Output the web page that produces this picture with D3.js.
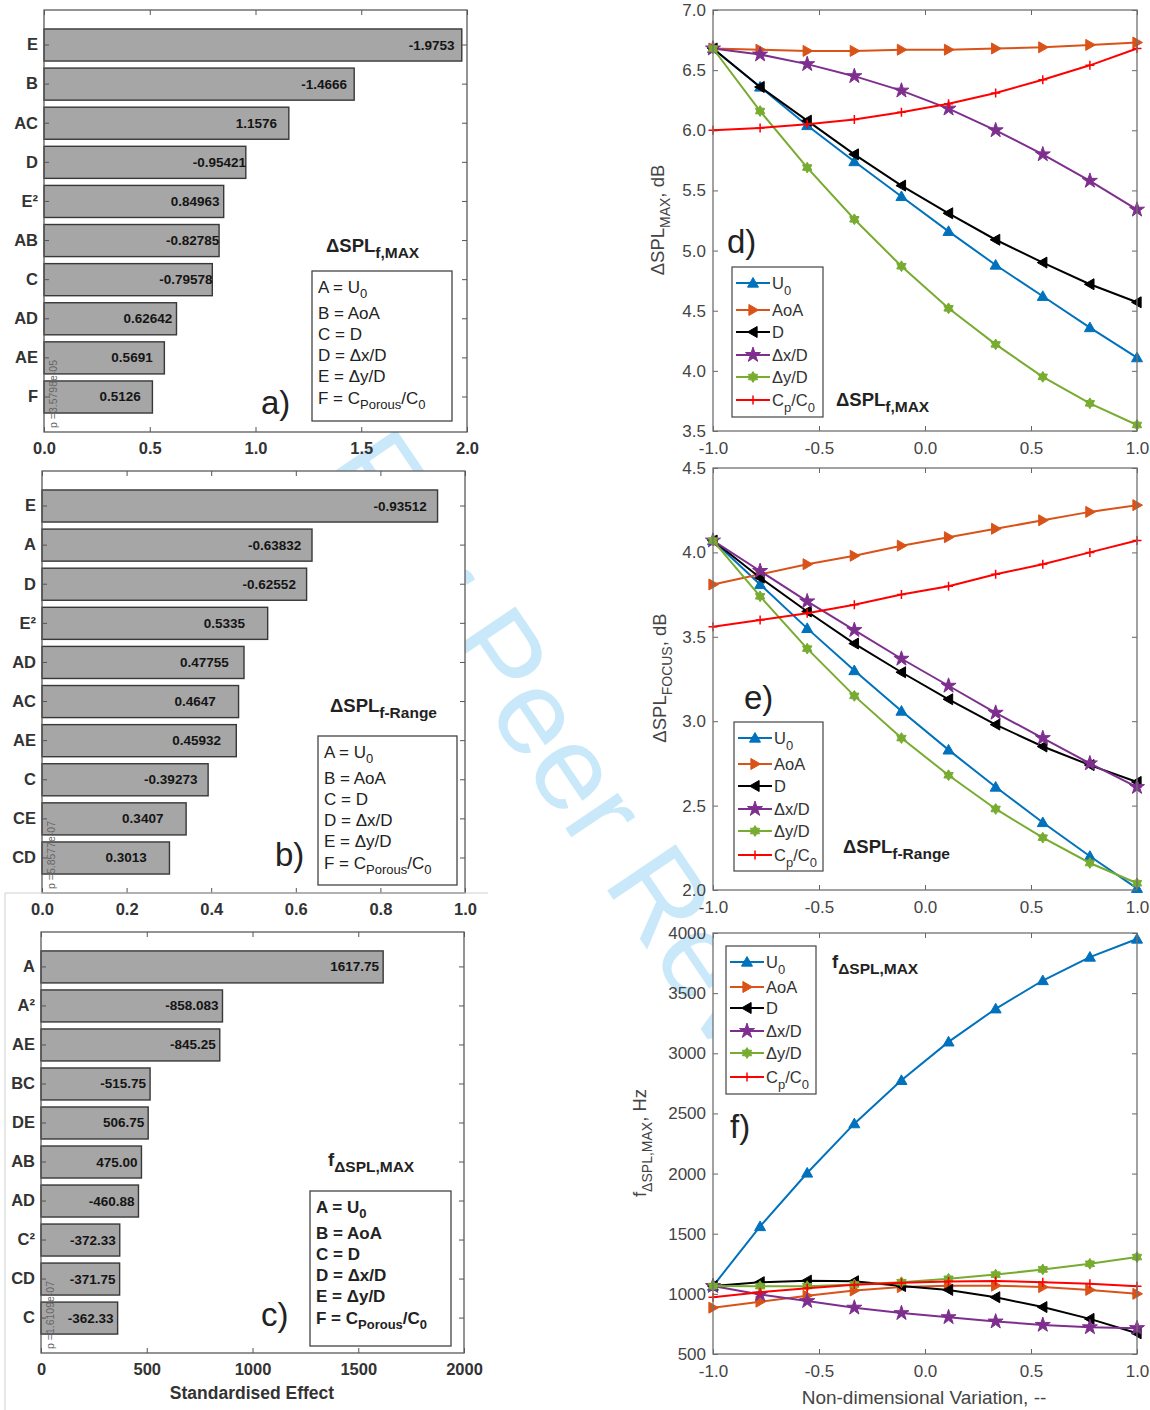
<!DOCTYPE html>
<html>
<head>
<meta charset="utf-8">
<script src="https://cdn.jsdelivr.net/npm/d3@7"></script>
<style>
  body { margin: 0; background: #fff; }
  svg { display: block; }
  text { font-family: "Liberation Sans", Arial, Helvetica, sans-serif; }
</style>
</head>
<body>
<svg id="fig" width="1150" height="1410"></svg>
<script>
// ---------------- Pareto data (standardised effects) ----------------
const catsA = ["E", "B", "AC", "D", "E²", "AB", "C", "AD", "AE", "F"];
const effA  = ["-1.9753", "-1.4666", "1.1576", "-0.95421", "0.84963", "-0.82785", "-0.79578", "0.62642", "0.5691", "0.5126"];
const ticksA = [0, 0.5, 1.0, 1.5, 2.0];

const catsB = ["E", "A", "D", "E²", "AD", "AC", "AE", "C", "CE", "CD"];
const effB  = ["-0.93512", "-0.63832", "-0.62552", "0.5335", "0.47755", "0.4647", "0.45932", "-0.39273", "0.3407", "0.3013"];
const ticksB = [0, 0.2, 0.4, 0.6, 0.8, 1.0];

const catsC = ["A", "A²", "AE", "BC", "DE", "AB", "AD", "C²", "CD", "C"];
const effC  = ["1617.75", "-858.083", "-845.25", "-515.75", "506.75", "475.00", "-460.88", "-372.33", "-371.75", "-362.33"];
const ticksC = [0, 500, 1000, 1500, 2000];

// ---------------- One-factor sweeps ----------------
const variation = [-1.0, -0.7778, -0.5556, -0.3333, -0.1111, 0.1111, 0.3333, 0.5556, 0.7778, 1.0];
const ticksVar = [-1.0, -0.5, 0.0, 0.5, 1.0];

// ΔSPL_MAX, dB
const dU0  = [6.68, 6.36, 6.04, 5.74, 5.45, 5.16, 4.88, 4.62, 4.36, 4.11];
const dAoA = [6.68, 6.67, 6.66, 6.66, 6.67, 6.67, 6.68, 6.69, 6.71, 6.73];
const dD   = [6.68, 6.36, 6.08, 5.80, 5.54, 5.31, 5.09, 4.90, 4.72, 4.57];
const dDx  = [6.68, 6.63, 6.55, 6.45, 6.33, 6.18, 6.00, 5.80, 5.58, 5.34];
const dDy  = [6.68, 6.16, 5.69, 5.26, 4.87, 4.52, 4.22, 3.95, 3.73, 3.55];
const dCp  = [6.00, 6.02, 6.05, 6.09, 6.15, 6.22, 6.31, 6.42, 6.54, 6.68];
const ticksD = [3.5, 4.0, 4.5, 5.0, 5.5, 6.0, 6.5, 7.0];

// ΔSPL_FOCUS, dB
const eU0  = [4.07, 3.81, 3.55, 3.30, 3.06, 2.83, 2.61, 2.40, 2.20, 2.01];
const eAoA = [3.81, 3.87, 3.93, 3.98, 4.04, 4.09, 4.14, 4.19, 4.24, 4.28];
const eD   = [4.07, 3.85, 3.65, 3.46, 3.29, 3.13, 2.98, 2.85, 2.74, 2.64];
const eDx  = [4.07, 3.89, 3.71, 3.54, 3.37, 3.21, 3.05, 2.90, 2.75, 2.61];
const eDy  = [4.07, 3.74, 3.43, 3.15, 2.90, 2.68, 2.48, 2.31, 2.16, 2.04];
const eCp  = [3.56, 3.60, 3.64, 3.69, 3.75, 3.80, 3.87, 3.93, 4.00, 4.07];
const ticksE = [2.0, 2.5, 3.0, 3.5, 4.0, 4.5];

// f_ΔSPL,MAX, Hz
const fU0  = [1065, 1560, 2005, 2415, 2775, 3095, 3370, 3605, 3800, 3950];
const fAoA = [885, 935, 985, 1028, 1056, 1068, 1068, 1056, 1033, 1000];
const fD   = [1065, 1097, 1110, 1105, 1065, 1033, 972, 890, 792, 672];
const fDx  = [1065, 995, 940, 885, 840, 806, 770, 742, 722, 715];
const fDy  = [1065, 1064, 1064, 1078, 1097, 1125, 1160, 1203, 1250, 1306];
const fCp  = [972, 1014, 1047, 1075, 1092, 1103, 1106, 1097, 1083, 1064];
const ticksF = [500, 1000, 1500, 2000, 2500, 3000, 3500, 4000];

// legend names of the swept factors (text parts: [string, subscript?])
const factorNames = [
  [["U", 0], ["0", 1]],
  [["AoA", 0]],
  [["D", 0]],
  [["Δx/D", 0]],
  [["Δy/D", 0]],
  [["C", 0], ["p", 1], ["/C", 0], ["0", 1]]
];
const factorColors  = ["#0072BD", "#D95319", "#000000", "#7E2F8E", "#77AC30", "#FF0000"];
const factorMarkers = ["triUp", "triRight", "triLeft", "pentagram", "hexagram", "plus"];

// key of the coded factors used in the Pareto charts
const factorKey = [
  [["A = U", 0], ["0", 1]],
  [["B = AoA", 0]],
  [["C = D", 0]],
  [["D = Δx/D", 0]],
  [["E = Δy/D", 0]],
  [["F = C", 0], ["Porous", 1], ["/C", 0], ["0", 1]]
];

// ---------------- helpers ----------------
const svg = d3.select("#fig");
const locale = d3.formatLocale({ decimal: ".", thousands: ",", grouping: [3], currency: ["", ""], minus: "-" });
const fmt1 = locale.format(".1f");
const fmtInt = locale.format("d");

function rich(sel, parts, subSize, shift) {
  let prev = 0;
  parts.forEach(([s, lvl]) => {
    const t = sel.append("tspan").text(s);
    if (lvl !== prev) t.attr("dy", (lvl - prev) * shift);
    if (lvl) t.attr("font-size", subSize);
    prev = lvl;
  });
  return sel;
}

function markerPath(type) {
  const s = 5.5;
  if (type === "triUp")    return `M0,${-s}L${s},${s * 0.75}L${-s},${s * 0.75}Z`;
  if (type === "triRight") return `M${s},0L${-s * 0.75},${s}L${-s * 0.75},${-s}Z`;
  if (type === "triLeft")  return `M${-s},0L${s * 0.75},${s}L${s * 0.75},${-s}Z`;
  if (type === "pentagram") return d3.symbol(d3.symbolStar, 70)();
  if (type === "hexagram") {
    const pts = [];
    for (let k = 0; k < 12; k++) {
      const r = k % 2 === 0 ? 5.4 : 3.3;
      const a = -Math.PI / 2 + k * Math.PI / 6;
      pts.push([r * Math.cos(a), r * Math.sin(a)]);
    }
    return "M" + pts.map(p => p.join(",")).join("L") + "Z";
  }
  return "M-4.5,0H4.5M0,-4.5V4.5";
}

function drawMarker(g, type, color, cx, cy) {
  const p = g.append("path").attr("d", markerPath(type)).attr("transform", `translate(${cx},${cy})`);
  if (type === "plus") p.attr("fill", "none").attr("stroke", color).attr("stroke-width", 1.5);
  else p.attr("fill", color).attr("stroke", color).attr("stroke-width", 1);
}

// ---------------- watermark (behind the plot areas) ----------------
svg.append("text")
  .attr("transform", "translate(572,838) rotate(56)")
  .attr("text-anchor", "middle")
  .attr("font-size", 120)
  .attr("fill", "#c9e9fa")
  .text("For Peer Review");

// ---------------- Pareto panels ----------------
function barPanel(cfg) {
  const g = svg.append("g");
  const vals = cfg.labels.map(Number);
  const x = d3.scaleLinear().domain([0, cfg.max]).range([cfg.x0, cfg.x1]);
  const y = d3.scaleBand().domain(cfg.cats).range([cfg.y0, cfg.y1]).paddingInner(0.18).paddingOuter(0.485);

  g.append("rect").attr("x", cfg.x0).attr("y", cfg.y0)
    .attr("width", cfg.x1 - cfg.x0).attr("height", cfg.y1 - cfg.y0).attr("fill", "#fff");

  g.selectAll("rect.bar").data(cfg.cats).join("rect").attr("class", "bar")
    .attr("x", x(0)).attr("y", d => y(d))
    .attr("width", (d, i) => x(Math.abs(vals[i])) - x(0))
    .attr("height", y.bandwidth())
    .attr("fill", "#a6a6a6").attr("stroke", "#383838").attr("stroke-width", 1.4);

  // axes with inward ticks on all sides
  const styleAxis = sel => {
    sel.select(".domain").remove();
    sel.selectAll(".tick line").attr("stroke", "#555");
    sel.selectAll("text").attr("font-size", 16.5).attr("font-weight", "bold").attr("fill", "#333")
      .attr("font-family", '"Liberation Sans", Arial, sans-serif');
  };
  g.append("g").attr("transform", `translate(0,${cfg.y1})`)
    .call(d3.axisBottom(x).tickValues(cfg.ticks).tickFormat(cfg.fmt).tickSizeInner(-5).tickSizeOuter(0).tickPadding(10))
    .call(styleAxis);
  g.append("g").attr("transform", `translate(0,${cfg.y0})`)
    .call(d3.axisTop(x).tickValues(cfg.ticks).tickFormat("").tickSizeInner(-5).tickSizeOuter(0))
    .call(styleAxis);
  g.append("g").attr("transform", `translate(${cfg.x0},0)`)
    .call(d3.axisLeft(y).tickSizeInner(-5).tickSizeOuter(0).tickPadding(6))
    .call(styleAxis);
  g.append("g").attr("transform", `translate(${cfg.x1},0)`)
    .call(d3.axisRight(y).tickFormat("").tickSizeInner(-5).tickSizeOuter(0))
    .call(styleAxis);

  // value labels inside bars
  g.selectAll("text.val").data(cfg.cats).join("text").attr("class", "val")
    .attr("x", (d, i) => x(Math.abs(vals[i])) + cfg.labelDx)
    .attr("y", d => y(d) + y.bandwidth() / 2 + 4.5)
    .attr("text-anchor", cfg.labelAnchor)
    .attr("font-size", 13.5).attr("font-weight", "bold").attr("fill", "#151515")
    .text((d, i) => cfg.labels[i]);

  // significance line annotation
  g.append("text")
    .attr("transform", `translate(${cfg.x0 + 13},${cfg.y1 - 4}) rotate(-90)`)
    .attr("font-size", 10.5).attr("fill", "#666").text(cfg.pText);

  g.append("rect").attr("x", cfg.x0).attr("y", cfg.y0)
    .attr("width", cfg.x1 - cfg.x0).attr("height", cfg.y1 - cfg.y0)
    .attr("fill", "none").attr("stroke", "#5a5a5a").attr("stroke-width", 1.3);

  // response title
  rich(g.append("text").attr("x", cfg.titleX).attr("y", cfg.titleY)
    .attr("font-size", 18.5).attr("font-weight", "bold").attr("fill", "#222"), cfg.title, 15.5, 6);

  // factor key box
  const lb = cfg.keyBox;
  g.append("rect").attr("x", lb[0]).attr("y", lb[1]).attr("width", lb[2]).attr("height", lb[3])
    .attr("fill", "#fff").attr("stroke", "#444").attr("stroke-width", 1.3);
  const offs = [22, 48, 69, 90, 111, 133];
  factorKey.forEach((parts, i) => {
    rich(g.append("text").attr("x", lb[0] + 6).attr("y", lb[1] + offs[i])
      .attr("font-size", 17).attr("font-weight", cfg.keyWeight).attr("fill", "#222"), parts, 13, 5);
  });

  g.append("text").attr("x", cfg.letterX).attr("y", cfg.letterY)
    .attr("font-family", '"Open Sans", "Noto Sans", sans-serif')
    .attr("font-size", 33).attr("fill", "#222").text(cfg.letter);

  return { g, x };
}

barPanel({
  cats: catsA, labels: effA, max: 2.0, ticks: ticksA, fmt: fmt1,
  x0: 44, x1: 467, y0: 10, y1: 432,
  labelDx: -53, labelAnchor: "start",
  pText: "p =3.5798e-05",
  title: [["ΔSPL", 0], ["f,MAX", 1]], titleX: 326, titleY: 252,
  keyBox: [312, 271, 140, 150], keyWeight: "normal",
  letter: "a)", letterX: 261, letterY: 414
});

barPanel({
  cats: catsB, labels: effB, max: 1.0, ticks: ticksB, fmt: fmt1,
  x0: 42, x1: 465, y0: 471, y1: 893,
  labelDx: -64, labelAnchor: "start",
  pText: "p =5.8577e-07",
  title: [["ΔSPL", 0], ["f-Range", 1]], titleX: 330, titleY: 712,
  keyBox: [318, 736, 139, 149], keyWeight: "normal",
  letter: "b)", letterX: 275, letterY: 866
});

// light frame around the lower Pareto panel
svg.append("path").attr("d", "M5,1410V893H488").attr("fill", "none").attr("stroke", "#cfcfcf").attr("stroke-width", 1);

const pc = barPanel({
  cats: catsC, labels: effC, max: 2000, ticks: ticksC, fmt: fmtInt,
  x0: 41, x1: 464, y0: 932, y1: 1353,
  labelDx: -4, labelAnchor: "end",
  pText: "p =1.6109e-07",
  title: [["f", 0], ["ΔSPL,MAX", 1]], titleX: 328, titleY: 1166,
  keyBox: [310, 1191, 141, 155], keyWeight: "bold",
  letter: "c)", letterX: 261, letterY: 1326
});
pc.g.append("text").attr("x", 252).attr("y", 1399).attr("text-anchor", "middle")
  .attr("font-size", 17.5).attr("font-weight", "bold").attr("fill", "#333").text("Standardised Effect");

// ---------------- sweep panels ----------------
function linePanel(cfg) {
  const g = svg.append("g");
  const X0 = 713, X1 = 1137;
  const x = d3.scaleLinear().domain([-1, 1]).range([X0, X1]);
  const y = d3.scaleLinear().domain(cfg.yDomain).range([cfg.y1, cfg.y0]);

  g.append("rect").attr("x", X0).attr("y", cfg.y0).attr("width", X1 - X0).attr("height", cfg.y1 - cfg.y0).attr("fill", "#fff");

  const styleAxis = sel => {
    sel.select(".domain").remove();
    sel.selectAll(".tick line").attr("stroke", "#666");
    sel.selectAll("text").attr("font-size", 17).attr("fill", "#444")
      .attr("font-family", '"Liberation Sans", Arial, sans-serif');
  };
  g.append("g").attr("transform", `translate(0,${cfg.y1})`)
    .call(d3.axisBottom(x).tickValues(ticksVar).tickFormat(fmt1).tickSizeInner(-5).tickSizeOuter(0).tickPadding(11))
    .call(styleAxis);
  g.append("g").attr("transform", `translate(0,${cfg.y0})`)
    .call(d3.axisTop(x).tickValues(ticksVar).tickFormat("").tickSizeInner(-5).tickSizeOuter(0))
    .call(styleAxis);
  g.append("g").attr("transform", `translate(${X0},0)`)
    .call(d3.axisLeft(y).tickValues(cfg.yTicks).tickFormat(cfg.yFmt).tickSizeInner(-5).tickSizeOuter(0).tickPadding(7))
    .call(styleAxis);
  g.append("g").attr("transform", `translate(${X1},0)`)
    .call(d3.axisRight(y).tickValues(cfg.yTicks).tickFormat("").tickSizeInner(-5).tickSizeOuter(0))
    .call(styleAxis);

  const line = d3.line().x((d, i) => x(variation[i])).y(d => y(d));
  cfg.series.forEach((vals, k) => {
    g.append("path").attr("d", line(vals)).attr("fill", "none")
      .attr("stroke", factorColors[k]).attr("stroke-width", 2);
    vals.forEach((v, i) => drawMarker(g, factorMarkers[k], factorColors[k], x(variation[i]), y(v)));
  });

  g.append("rect").attr("x", X0).attr("y", cfg.y0).attr("width", X1 - X0).attr("height", cfg.y1 - cfg.y0)
    .attr("fill", "none").attr("stroke", "#707070").attr("stroke-width", 1.3);

  // y label
  rich(g.append("text").attr("transform", `translate(${cfg.yLabelX},${cfg.yLabelY}) rotate(-90)`)
    .attr("text-anchor", "middle").attr("font-size", 18.5).attr("fill", "#444"), cfg.yLabel, 14, 6);

  // legend
  const lb = cfg.legend;
  g.append("rect").attr("x", lb.x).attr("y", lb.y).attr("width", lb.w).attr("height", lb.h)
    .attr("fill", "#fff").attr("stroke", "#444").attr("stroke-width", 1.2);
  lb.rows.forEach((ry, k) => {
    g.append("line").attr("x1", lb.x + 4).attr("x2", lb.x + 38).attr("y1", ry).attr("y2", ry)
      .attr("stroke", factorColors[k]).attr("stroke-width", 2);
    drawMarker(g, factorMarkers[k], factorColors[k], lb.x + 21, ry);
    rich(g.append("text").attr("x", lb.x + 40).attr("y", ry + 6)
      .attr("font-size", 16.5).attr("fill", "#333"), factorNames[k], 13, 6);
  });

  rich(g.append("text").attr("x", cfg.titleX).attr("y", cfg.titleY)
    .attr("font-size", 18.5).attr("font-weight", "bold").attr("fill", "#222"), cfg.title, 15.5, 6);

  g.append("text").attr("x", cfg.letterX).attr("y", cfg.letterY)
    .attr("font-family", '"Open Sans", "Noto Sans", sans-serif')
    .attr("font-size", 33).attr("fill", "#222").text(cfg.letter);
  return { g, x, y };
}

linePanel({
  y0: 10, y1: 431, yDomain: [3.5, 7.0], yTicks: ticksD, yFmt: fmt1,
  series: [dU0, dAoA, dD, dDx, dDy, dCp],
  yLabel: [["ΔSPL", 0], ["MAX", 1], [", dB", 0]], yLabelX: 664, yLabelY: 220,
  legend: { x: 732, y: 267, w: 91, h: 150, rows: [283, 310, 332, 355, 377, 400] },
  title: [["ΔSPL", 0], ["f,MAX", 1]], titleX: 836, titleY: 406,
  letter: "d)", letterX: 727, letterY: 253
});

linePanel({
  y0: 468, y1: 890, yDomain: [2.0, 4.5], yTicks: ticksE, yFmt: fmt1,
  series: [eU0, eAoA, eD, eDx, eDy, eCp],
  yLabel: [["ΔSPL", 0], ["FOCUS", 1], [", dB", 0]], yLabelX: 666, yLabelY: 678,
  legend: { x: 734, y: 722, w: 89, h: 149, rows: [738, 764, 786, 809, 831, 855] },
  title: [["ΔSPL", 0], ["f-Range", 1]], titleX: 843, titleY: 853,
  letter: "e)", letterX: 744, letterY: 709
});

const pf = linePanel({
  y0: 933, y1: 1354, yDomain: [500, 4000], yTicks: ticksF, yFmt: fmtInt,
  series: [fU0, fAoA, fD, fDx, fDy, fCp],
  yLabel: [["f", 0], ["ΔSPL,MAX", 1], [", Hz", 0]], yLabelX: 646, yLabelY: 1143,
  legend: { x: 726, y: 946, w: 90, h: 148, rows: [962, 987, 1008, 1031, 1053, 1077] },
  title: [["f", 0], ["ΔSPL,MAX", 1]], titleX: 832, titleY: 968,
  letter: "f)", letterX: 730, letterY: 1138
});
pf.g.append("text").attr("x", 924).attr("y", 1404).attr("text-anchor", "middle")
  .attr("font-size", 19).attr("fill", "#444").text("Non-dimensional Variation, --");
</script>
</body>
</html>
